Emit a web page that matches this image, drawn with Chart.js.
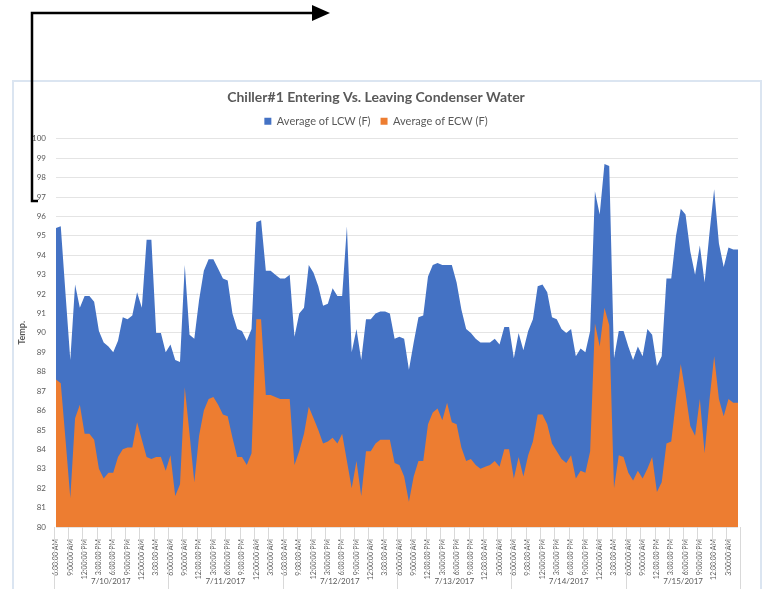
<!DOCTYPE html>
<html>
<head>
<meta charset="utf-8">
<script src="https://cdn.jsdelivr.net/npm/chart.js@4.4.0/dist/chart.umd.min.js"></script>
<style>
  html, body { margin: 0; padding: 0; background: #fff; }
  #wrap { position: relative; width: 768px; height: 589px; overflow: hidden; background: #fff; }
  #frame { position: absolute; left: 12px; top: 80px; width: 750px; height: 530px;
           border: 2px solid #dbe5f1; box-sizing: border-box; }
  #c { position: absolute; left: 0; top: 0; }
  #arrow { position: absolute; left: 0; top: 0; }
</style>
</head>
<body>
<div id="wrap">
  <div id="frame"></div>
  <canvas id="c" width="768" height="589"></canvas>
  <svg id="arrow" width="768" height="589">
    <polyline points="38,201 32,201 32,13 315,13" fill="none" stroke="#000" stroke-width="2.5"/>
    <polygon points="312,5 330,13 312,21" fill="#000"/>
  </svg>
</div>
<script>
// Shift days shown on the outer category row
const dayLabels = ['7/10/2017', '7/11/2017', '7/12/2017', '7/13/2017', '7/14/2017', '7/15/2017'];

// Hourly readings in each shift day, starting at 6 AM
const hourLabels = [
  '6:00:00 AM', '7:00:00 AM', '8:00:00 AM', '9:00:00 AM', '10:00:00 AM', '11:00:00 AM',
  '12:00:00 PM', '1:00:00 PM', '2:00:00 PM', '3:00:00 PM', '4:00:00 PM', '5:00:00 PM',
  '6:00:00 PM', '7:00:00 PM', '8:00:00 PM', '9:00:00 PM', '10:00:00 PM', '11:00:00 PM',
  '12:00:00 AM', '1:00:00 AM', '2:00:00 AM', '3:00:00 AM', '4:00:00 AM', '5:00:00 AM'
];

// Average leaving condenser water temperature (F)
const lcw = [
  95.4, 95.5, 92.0, 88.6, 92.5, 91.3, 91.9, 91.9, 91.6, 90.1, 89.5, 89.3,
  89.0, 89.6, 90.8, 90.7, 90.9, 92.1, 91.3, 94.8, 94.8, 90.0, 90.0, 89.0,
  89.4, 88.6, 88.5, 93.5, 89.9, 89.7, 91.7, 93.2, 93.8, 93.8, 93.3, 92.8,
  92.7, 91.0, 90.2, 90.1, 89.6, 90.2, 95.7, 95.8, 93.2, 93.2, 93.0, 92.8,
  92.8, 93.0, 89.8, 91.0, 91.3, 93.5, 93.1, 92.4, 91.4, 91.5, 92.3, 91.9,
  91.9, 95.5, 89.0, 90.2, 88.6, 90.7, 90.7, 91.0, 91.1, 91.1, 91.0, 89.7,
  89.8, 89.7, 88.1, 89.5, 90.8, 90.9, 92.9, 93.5, 93.6, 93.5, 93.5, 93.5,
  92.6, 91.2, 90.2, 90.0, 89.7, 89.5, 89.5, 89.5, 89.7, 89.4, 90.3, 90.3,
  88.7, 90.0, 89.1, 90.1, 90.7, 92.4, 92.5, 92.1, 90.8, 90.7, 90.2, 90.0,
  90.2, 88.8, 89.2, 89.0, 90.1, 97.3, 96.1, 98.7, 98.6, 88.7, 90.1, 90.1,
  89.3, 88.6, 89.3, 88.8, 90.2, 89.9, 88.3, 88.8, 92.8, 92.8, 95.0, 96.4,
  96.1, 94.2, 93.0, 94.5, 92.6, 95.1, 97.4, 94.6, 93.4, 94.4, 94.3, 94.3
];

// Average entering condenser water temperature (F)
const ecw = [
  87.6, 87.4, 84.5, 81.5, 85.6, 86.3, 84.8, 84.8, 84.5, 83.0, 82.5, 82.8,
  82.8, 83.6, 84.0, 84.1, 84.1, 85.4, 84.5, 83.6, 83.5, 83.6, 83.6, 82.9,
  83.7, 81.6, 82.2, 87.2, 84.8, 82.3, 84.7, 86.0, 86.6, 86.7, 86.3, 85.8,
  85.7, 84.6, 83.6, 83.6, 83.2, 83.8, 90.7, 90.7, 86.8, 86.8, 86.7, 86.6,
  86.6, 86.6, 83.2, 83.9, 84.8, 86.2, 85.6, 85.0, 84.3, 84.4, 84.6, 84.3,
  84.8, 83.4, 82.0, 83.4, 81.6, 83.9, 83.9, 84.3, 84.5, 84.5, 84.5, 83.3,
  83.2, 82.6, 81.3, 82.6, 83.4, 83.4, 85.3, 85.9, 86.1, 85.5, 86.4, 85.4,
  85.3, 84.1, 83.4, 83.5, 83.2, 83.0, 83.1, 83.2, 83.4, 83.1, 84.0, 84.0,
  82.5, 83.6, 82.6, 83.7, 84.4, 85.8, 85.8, 85.3, 84.3, 83.9, 83.5, 83.3,
  83.7, 82.5, 82.9, 82.8, 83.9, 90.5, 89.3, 91.3, 90.4, 82.0, 83.7, 83.6,
  82.8, 82.4, 82.9, 82.5, 83.0, 83.6, 81.8, 82.3, 84.3, 84.4, 86.5, 88.4,
  86.9, 85.2, 84.7, 86.6, 83.8, 86.5, 88.8, 86.6, 85.7, 86.6, 86.4, 86.4
];

// Value axis range
const yMin = 80;
const yMax = 100;

// One category per hourly reading
const categories = [];
dayLabels.forEach(d => hourLabels.forEach(h => categories.push(d + ' ' + h)));

const textGray = '#595959';
const lineGray = '#d9d9d9';

// Draws the two-level category axis: tick separators and the day row
const groupAxis = {
  id: 'groupAxis',
  afterDraw(chart) {
    const { ctx, chartArea, scales: { x } } = chart;
    ctx.save();
    ctx.strokeStyle = lineGray;
    ctx.lineWidth = 1;
    for (let i = 0; i <= categories.length; i += 3) {
      const px = Math.round(x.getPixelForValue(i - 0.5)) + 0.5;
      const dayEdge = i % hourLabels.length === 0;
      ctx.beginPath();
      ctx.moveTo(px, chartArea.bottom);
      ctx.lineTo(px, dayEdge ? chart.height : chartArea.bottom + 46);
      ctx.stroke();
    }
    ctx.fillStyle = textGray;
    ctx.font = '8px Lato';
    ctx.textAlign = 'center';
    ctx.textBaseline = 'middle';
    dayLabels.forEach((d, k) => {
      const mid = x.getPixelForValue(k * hourLabels.length + (hourLabels.length - 1) / 2);
      ctx.fillText(d, mid, 581);
    });
    ctx.restore();
  }
};

Chart.defaults.font.family = 'Lato';
Chart.defaults.color = textGray;

new Chart(document.getElementById('c'), {
  type: 'line',
  data: {
    labels: categories,
    datasets: [
      {
        label: 'Average of LCW (F)',
        data: lcw,
        backgroundColor: '#4472c4',
        borderColor: '#4472c4',
        borderWidth: 0,
        pointRadius: 0,
        fill: 'start',
        tension: 0,
        order: 2
      },
      {
        label: 'Average of ECW (F)',
        data: ecw,
        backgroundColor: '#ed7d31',
        borderColor: '#ed7d31',
        borderWidth: 0,
        pointRadius: 0,
        fill: 'start',
        tension: 0,
        order: 1
      }
    ]
  },
  options: {
    responsive: false,
    animation: false,
    layout: { padding: { top: 80, left: 14, right: 30, bottom: 0 } },
    plugins: {
      title: {
        display: true,
        text: 'Chiller#1 Entering Vs. Leaving Condenser Water',
        color: textGray,
        font: { size: 14, weight: 'bold' },
        padding: { top: 9, bottom: 0 }
      },
      legend: {
        display: true,
        labels: {
          boxWidth: 7,
          boxHeight: 7,
          padding: 10,
          color: textGray,
          font: { size: 11 },
          sort: (a, b) => a.datasetIndex - b.datasetIndex
        }
      },
      tooltip: { enabled: false }
    },
    scales: {
      x: {
        type: 'category',
        offset: false,
        grid: { display: false },
        border: { display: false },
        ticks: {
          autoSkip: false,
          maxRotation: 90,
          minRotation: 90,
          padding: 4,
          color: textGray,
          font: { size: 7 },
          callback: (v, i) => (i % 3 === 0 ? hourLabels[i % hourLabels.length] : '')
        },
        afterFit: s => { s.height = 62; }
      },
      xTop: {
        type: 'category',
        position: 'top',
        display: true,
        grid: { display: false },
        border: { display: false },
        ticks: { display: false },
        afterFit: s => { s.height = 2; }
      },
      y: {
        min: yMin,
        max: yMax,
        grid: { color: '#e4e4e4', drawTicks: false },
        border: { display: false },
        ticks: { stepSize: 1, padding: 10, color: textGray, font: { size: 8 } },
        title: {
          display: true,
          text: 'Temp.',
          color: textGray,
          font: { size: 9, weight: 'bold' },
          padding: { top: 3, bottom: 0 }
        },
        afterFit: s => { s.width = 42; }
      }
    }
  },
  plugins: [groupAxis]
});
</script>
</body>
</html>
